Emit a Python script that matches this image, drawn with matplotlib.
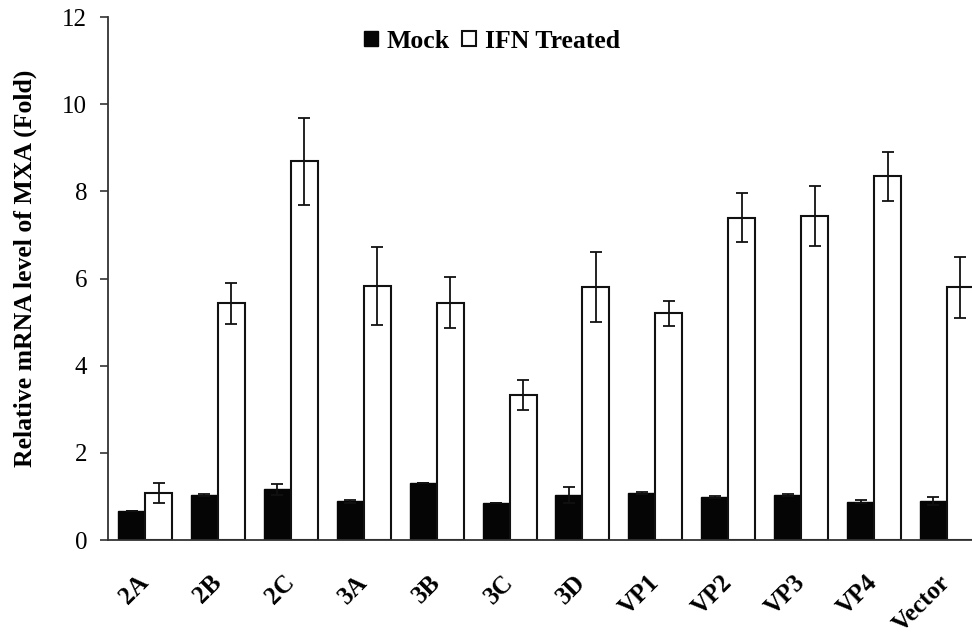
import numpy as np
import matplotlib
matplotlib.use("Agg")
import matplotlib.pyplot as plt
from matplotlib.patches import Patch

plt.rcParams["font.family"] = ["Liberation Serif", "DejaVu Serif"]

# MXA mRNA fold change per construct
constructs = ["2A", "2B", "2C", "3A", "3B", "3C", "3D", "VP1", "VP2", "VP3", "VP4", "Vector"]
mock = [0.66, 1.03, 1.16, 0.89, 1.30, 0.86, 1.03, 1.08, 0.99, 1.03, 0.88, 0.90]
mock_err = [0.0, 0.03, 0.12, 0.03, 0.0, 0.0, 0.19, 0.03, 0.03, 0.03, 0.03, 0.09]
ifn = [1.08, 5.43, 8.69, 5.83, 5.45, 3.33, 5.81, 5.20, 7.40, 7.43, 8.35, 5.80]
ifn_err = [0.22, 0.47, 1.0, 0.89, 0.58, 0.35, 0.80, 0.28, 0.57, 0.69, 0.56, 0.70]

x = np.arange(len(constructs))
w = 0.37
ekw = dict(ecolor="#111", elinewidth=1.3, capsize=4.5, capthick=1.3)

fig = plt.figure(figsize=(9.72, 6.35), dpi=100)
ax = fig.add_axes([0.111, 0.1496, 0.8895, 0.8234])

ax.bar(x - w/2, mock, w, color="#050505", edgecolor="#050505", lw=1.0,
       yerr=mock_err, error_kw=ekw, label="Mock")
ax.bar(x + w/2, ifn, w, color="white", edgecolor="#111", lw=1.5,
       yerr=ifn_err, error_kw=ekw, label="IFN Treated")

ax.set_xlim(-0.51, 11.35)
ax.set_ylim(0, 12)
ax.set_yticks(np.arange(0, 13, 2))
ax.set_xticks(x)
ax.set_xticklabels(constructs, rotation=45, ha="right", va="center",
                   rotation_mode="anchor", fontsize=18, fontweight="bold")
ax.tick_params(axis="x", length=0, pad=28)
ax.tick_params(axis="y", length=6, width=1.2, labelsize=18, pad=9, color="#333")

for s in ["top", "right"]:
    ax.spines[s].set_visible(False)
for s in ["left", "bottom"]:
    ax.spines[s].set_linewidth(1.3)
    ax.spines[s].set_color("#333")

ax.set_ylabel("Relative mRNA level of MXA (Fold)", fontsize=18.5, fontweight="bold")
ax.yaxis.set_label_coords(-0.082, 0.519)

handles = [Patch(facecolor="#050505", edgecolor="#050505"),
           Patch(facecolor="white", edgecolor="#111", lw=1.5)]
ax.legend(handles, ["Mock", "IFN Treated"], loc="upper center", bbox_to_anchor=(0.444, 1.02),
          ncol=2, frameon=False, handlelength=0.55, handleheight=0.55,
          handletextpad=0.35, columnspacing=0.45, prop=dict(size=18.5, weight="bold"))

fig.savefig("out.png", dpi=100)
